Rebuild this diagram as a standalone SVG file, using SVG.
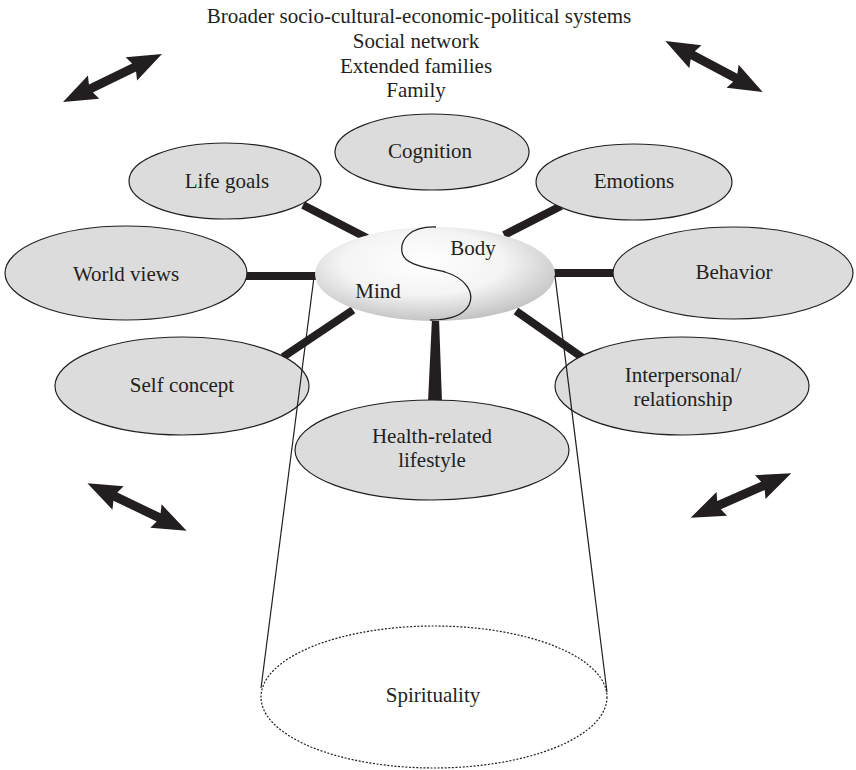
<svg xmlns="http://www.w3.org/2000/svg" width="856" height="770" viewBox="0 0 856 770">
  <style>
    .lbl { font-family: "Liberation Serif", "Times New Roman", serif; font-size: 21px; fill: #231f20; text-anchor: middle; }
    .node { fill: #dcdcdc; stroke: #231f20; stroke-width: 1.2; }
    .link { stroke: #231f20; stroke-width: 8; fill: none; }
    .cone { stroke: #231f20; stroke-width: 1.2; fill: none; }
    .arrow { fill: #231f20; }
  </style>
  <defs>
    <radialGradient id="mbGrad" cx="45%" cy="38%" r="62%">
      <stop offset="0" stop-color="#ffffff"/>
      <stop offset="0.55" stop-color="#f4f4f4"/>
      <stop offset="1" stop-color="#c4c4c4"/>
    </radialGradient>
    <!-- double-headed block arrow, 110 long, centred on the origin -->
    <polygon id="dblArrow" points="-55,0 -21,-13 -24,-4.5 24,-4.5 21,-13 55,0 21,13 24,4.5 -24,4.5 -21,13"/>
  </defs>

  <rect width="856" height="770" fill="#ffffff"/>

  <!-- surrounding systems -->
  <g id="systems">
    <text class="lbl" x="419" y="23">Broader socio-cultural-economic-political systems</text>
    <text class="lbl" x="416" y="48">Social network</text>
    <text class="lbl" x="416" y="73">Extended families</text>
    <text class="lbl" x="416" y="97">Family</text>
  </g>

  <!-- two-way exchange arrows -->
  <g id="arrows" class="arrow">
    <use href="#dblArrow" transform="translate(112.5,78) rotate(-25.9)"/>
    <use href="#dblArrow" transform="translate(714,66.5) rotate(27.7)"/>
    <use href="#dblArrow" transform="translate(137,507) rotate(25.6)"/>
    <use href="#dblArrow" transform="translate(741,495.5) rotate(-23.8)"/>
  </g>

  <!-- connectors -->
  <g id="connectors">
    <line class="link" x1="303" y1="205" x2="367" y2="238"/>
    <line class="link" x1="561" y1="206" x2="504" y2="235"/>
    <line class="link" x1="245" y1="276" x2="318" y2="276"/>
    <line class="link" x1="552" y1="273" x2="614" y2="273"/>
    <line class="link" x1="283" y1="357" x2="353" y2="310"/>
    <line class="link" x1="516" y1="311" x2="583" y2="358"/>
    <polygon fill="#231f20" points="432,318 439,318 442,402 428,402"/>
  </g>

  <!-- outer concepts -->
  <g id="cognition">
    <ellipse class="node" cx="432" cy="152" rx="97" ry="38"/>
    <text class="lbl" x="430" y="158">Cognition</text>
  </g>
  <g id="life-goals">
    <ellipse class="node" cx="225" cy="181" rx="96" ry="38"/>
    <text class="lbl" x="227" y="188">Life goals</text>
  </g>
  <g id="emotions">
    <ellipse class="node" cx="634" cy="182" rx="98" ry="38"/>
    <text class="lbl" x="634" y="188">Emotions</text>
  </g>
  <g id="world-views">
    <ellipse class="node" cx="126" cy="273" rx="121" ry="47"/>
    <text class="lbl" x="126" y="281">World views</text>
  </g>
  <g id="behavior">
    <ellipse class="node" cx="733" cy="273" rx="120" ry="46"/>
    <text class="lbl" x="734" y="279">Behavior</text>
  </g>
  <g id="self-concept">
    <ellipse class="node" cx="182" cy="386" rx="127" ry="49"/>
    <text class="lbl" x="182" y="392">Self concept</text>
  </g>
  <g id="interpersonal">
    <ellipse class="node" cx="682" cy="386" rx="127" ry="49"/>
    <text class="lbl" x="683" y="382">Interpersonal/</text>
    <text class="lbl" x="683" y="406">relationship</text>
  </g>
  <g id="health-lifestyle">
    <ellipse class="node" cx="432" cy="450" rx="137" ry="50"/>
    <text class="lbl" x="432" y="443">Health-related</text>
    <text class="lbl" x="432" y="467">lifestyle</text>
  </g>

  <!-- spirituality base with cone -->
  <g id="spirituality">
    <ellipse cx="434" cy="697" rx="173" ry="71" fill="none" stroke="#231f20" stroke-width="1.2" stroke-dasharray="2,1.6"/>
    <text class="lbl" x="433" y="702">Spirituality</text>
  </g>

  <!-- mind-body centre -->
  <g id="mind-body">
    <ellipse cx="435" cy="274" rx="120" ry="47" fill="url(#mbGrad)"/>
    <path d="M436,227 C410,226 400,240 402,252 C404,266 430,268 445,272 C465,278 475,292 469,305 C463,316 448,320 430,320" fill="none" stroke="#231f20" stroke-width="1.3"/>
    <text class="lbl" x="473" y="255">Body</text>
    <text class="lbl" x="378" y="298">Mind</text>
  </g>

  <g id="cone-sides">
    <line class="cone" x1="314" y1="277" x2="261" y2="688"/>
    <line class="cone" x1="555" y1="276" x2="607" y2="692"/>
  </g>
</svg>
